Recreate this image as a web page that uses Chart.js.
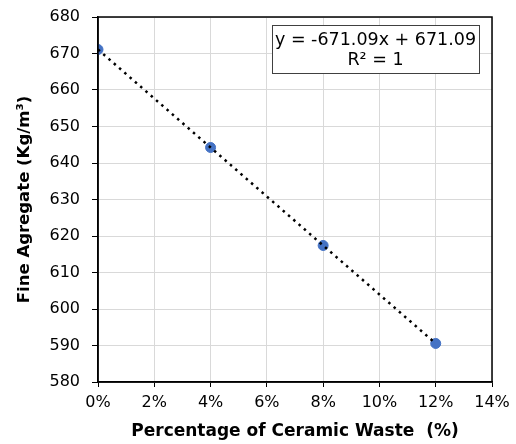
<!DOCTYPE html>
<html>
<head>
<meta charset="utf-8">
<script src="https://cdn.jsdelivr.net/npm/chart.js@4"></script>
<style>
  html, body { margin: 0; padding: 0; background: #fff; }
  #wrap { width: 516px; height: 444px; }
</style>
</head>
<body>
<div id="wrap"><canvas id="fineChart" width="516" height="444"></canvas></div>
<script>
// chart values
const ceramicPct = [0, 0.04, 0.08, 0.12];
const fineAggregate = [671.09, 644.25, 617.4, 590.56];
const equationLines = ['y = -671.09x + 671.09', 'R\u00b2 = 1'];

const points = ceramicPct.map((x, i) => ({ x: x, y: fineAggregate[i] }));
const FONT = '"DejaVu Sans", Arial, sans-serif';

// frame around plot area + trendline equation box
const framePlugin = {
  id: 'frame',
  afterDraw(chart) {
    const ctx = chart.ctx;
    const a = chart.chartArea;
    ctx.save();
    ctx.strokeStyle = '#000';
    ctx.lineWidth = 1.5;
    ctx.strokeRect(a.left, a.top, a.right - a.left, a.bottom - a.top);

    // equation box
    const bx = 272, by = 25, bw = 207, bh = 48;
    ctx.fillStyle = '#fff';
    ctx.fillRect(bx, by, bw, bh);
    ctx.strokeStyle = '#404040';
    ctx.lineWidth = 1;
    ctx.strokeRect(bx + 0.5, by + 0.5, bw, bh);
    ctx.fillStyle = '#000';
    ctx.font = '17.5px ' + FONT;
    ctx.textAlign = 'center';
    ctx.textBaseline = 'middle';
    ctx.fillText(equationLines[0], bx + bw / 2, by + 15);
    ctx.fillText(equationLines[1], bx + bw / 2, by + 35);
    ctx.restore();
  }
};

const ctx = document.getElementById('fineChart').getContext('2d');
const fineChart = new Chart(ctx, {
  type: 'scatter',
  data: {
    datasets: [{
      label: 'Linear trend',
      data: points,
      showLine: true,
      borderColor: '#000',
      borderWidth: 2.5,
      borderDash: [2.5, 4.5],
      pointRadius: 0,
      pointHoverRadius: 0,
      order: 0
    }, {
      label: 'Fine Agregate',
      data: points,
      backgroundColor: '#4472c4',
      borderColor: '#4472c4',
      pointRadius: 5,
      pointHoverRadius: 5,
      order: 1
    }]
  },
  plugins: [framePlugin],
  options: {
    responsive: false,
    animation: false,
    layout: { padding: { top: 17, right: 24, left: 0, bottom: 0 } },
    plugins: {
      legend: { display: false },
      tooltip: { enabled: false }
    },
    scales: {
      x: {
        type: 'linear',
        min: 0,
        max: 0.14,
        afterFit: s => { s.height = 62; s.paddingRight = 0; s.paddingLeft = 0; },
        ticks: {
          stepSize: 0.02,
          padding: 6,
          color: '#000',
          font: { family: FONT, size: 16 },
          callback: v => Math.round(v * 100) + '%'
        },
        grid: { color: '#d9d9d9', lineWidth: 1, tickColor: '#000', tickLength: 5 },
        border: { color: '#000', width: 1.5 },
        title: {
          display: true,
          text: 'Percentage of Ceramic Waste  (%)',
          color: '#000',
          font: { family: FONT, size: 17, weight: 'bold' },
          padding: { top: 0, bottom: 2 }
        }
      },
      y: {
        min: 580,
        max: 680,
        afterFit: s => { s.width = 98; s.paddingTop = 0; s.paddingBottom = 0; },
        ticks: {
          stepSize: 10,
          padding: 12,
          color: '#000',
          font: { family: FONT, size: 16 }
        },
        grid: { color: '#d9d9d9', lineWidth: 1, tickColor: '#000', tickLength: 6 },
        border: { color: '#000', width: 1.5 },
        title: {
          display: true,
          text: 'Fine Agregate (Kg/m\u00b3)',
          color: '#000',
          font: { family: FONT, size: 16.5, weight: 'bold' },
          padding: { top: 15, bottom: 0 }
        }
      }
    }
  }
});
</script>
</body>
</html>
